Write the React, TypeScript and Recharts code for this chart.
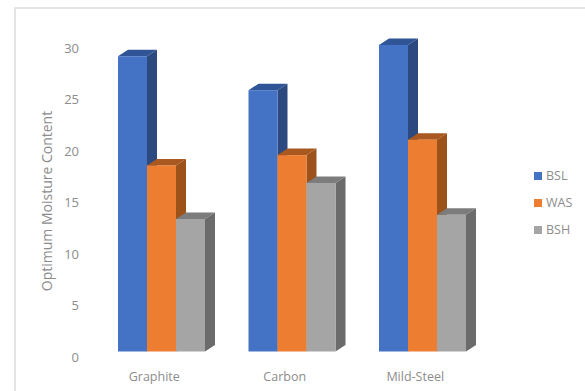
import { Bar, BarChart, Legend, XAxis, YAxis } from 'recharts';

const categories = ['Graphite', 'Carbon', 'Mild-Steel'];
const bsl = [29.2, 25.9, 30.3];
const was = [18.6, 19.6, 21.1];
const bsh = [13.4, 16.9, 13.8];
const yTicks = [0, 5, 10, 15, 20, 25, 30];

const data = categories.map((name, i) => ({ name, BSL: bsl[i], WAS: was[i], BSH: bsh[i] }));

const font = '"Open Sans", sans-serif';
const textColor = '#8c8c8c';

// fake 3D extrusion of the columns
const DEPTH_X = 10;
const DEPTH_Y = 6.5;
const FLOOR = 5.5;

const shades: Record<string, { side: string; top: string }> = {
  '#4472c4': { side: '#2c4a80', top: '#2f5597' },
  '#ed7d31': { side: '#9c5219', top: '#a9581f' },
  '#a5a5a5': { side: '#6b6b6b', top: '#7c7c7c' }
};

function Column3D({ x, y, width, height, fill }: any) {
  const right = x + width;
  const base = y + height - FLOOR;
  const { side, top } = shades[fill];
  return (
    <g>
      <polygon
        points={`${x},${y} ${x + DEPTH_X},${y - DEPTH_Y} ${right + DEPTH_X},${y - DEPTH_Y} ${right},${y}`}
        fill={top}
      />
      <polygon
        points={`${right},${y} ${right + DEPTH_X},${y - DEPTH_Y} ${right + DEPTH_X},${base - DEPTH_Y} ${right},${base}`}
        fill={side}
      />
      <rect x={x} y={y} width={width} height={base - y} fill={fill} />
    </g>
  );
}

export default function App() {
  return (
    <div style={{ position: 'absolute', left: 0, top: 0, width: 585, height: 391, overflow: 'hidden', background: '#fff' }}>
      <div
        style={{
          position: 'absolute',
          left: 14,
          top: 7,
          width: 585,
          height: 400,
          borderLeft: '2px solid #e4e4e4',
          borderTop: '2px solid #e4e4e4'
        }}
      />
      <BarChart
        width={585}
        height={391}
        data={data}
        barSize={29}
        barGap={0}
        margin={{ top: 27.4, right: 46.5, bottom: 0, left: 0 }}
        style={{ position: 'absolute', left: 0, top: 0 }}
      >
        <XAxis
          dataKey="name"
          height={34}
          axisLine={false}
          tickLine={false}
          tickMargin={9}
          tick={{ fill: textColor, fontSize: 12.5, fontFamily: font, dx: -7 }}
        />
        <YAxis
          width={96}
          domain={[0, 32]}
          ticks={yTicks}
          axisLine={false}
          tickLine={false}
          tickMargin={11}
          tick={{ fill: textColor, fontSize: 13, fontFamily: font }}
          label={{
            value: 'Optimum Moisture Content',
            angle: -90,
            position: 'insideLeft',
            offset: 47,
            dy: 99,
            style: { fill: textColor, fontSize: 14, fontFamily: font }
          }}
        />
        <Legend
          layout="vertical"
          align="right"
          verticalAlign="middle"
          iconType="square"
          iconSize={8}
          itemSorter={null}
          formatter={(value: string) => <span style={{ color: textColor, fontSize: 12.5, fontFamily: font }}>{value}</span>}
          wrapperStyle={{ position: 'absolute', left: 534, top: 162, width: 51, lineHeight: '26px' }}
        />
        <Bar dataKey="BSL" fill="#4472c4" shape={Column3D} isAnimationActive={false} />
        <Bar dataKey="WAS" fill="#ed7d31" shape={Column3D} isAnimationActive={false} />
        <Bar dataKey="BSH" fill="#a5a5a5" shape={Column3D} isAnimationActive={false} />
      </BarChart>
    </div>
  );
}
